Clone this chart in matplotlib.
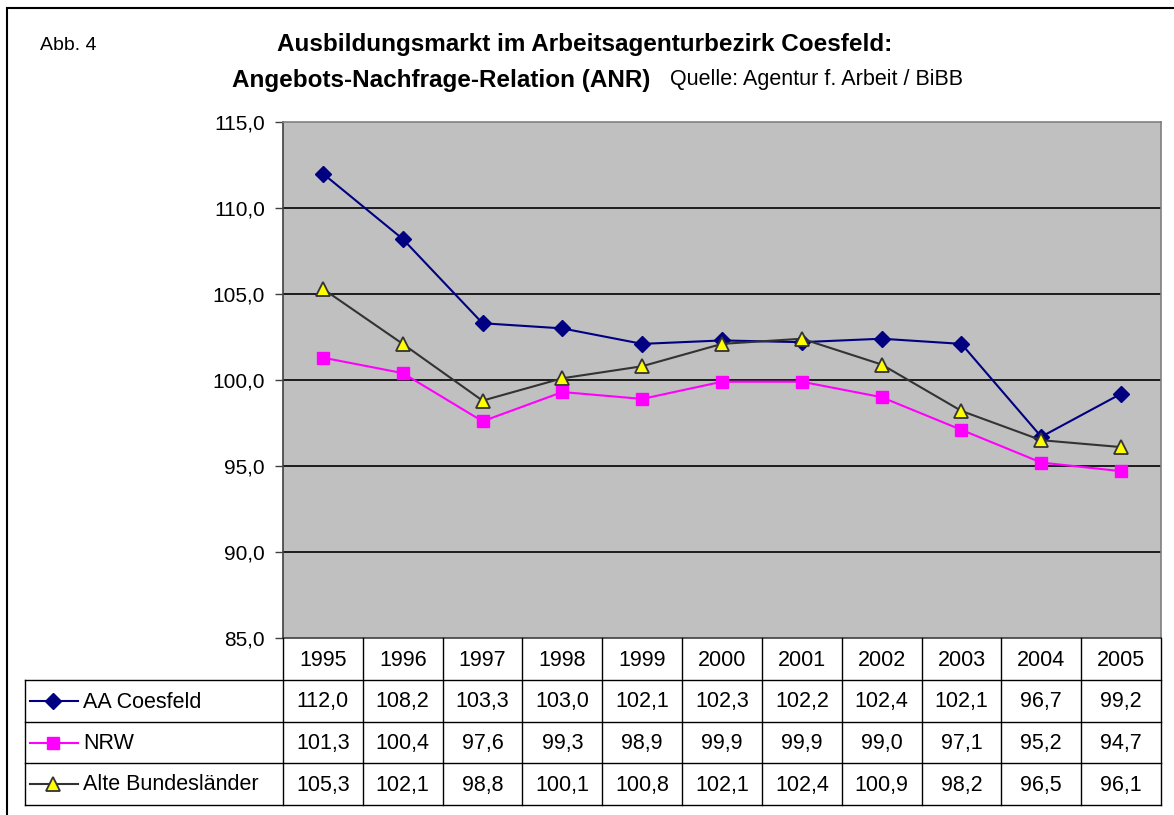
import matplotlib
matplotlib.use("Agg")
import matplotlib.pyplot as plt
from matplotlib.lines import Line2D
from matplotlib.patches import Rectangle

plt.rcParams['font.family'] = ['Liberation Sans', 'DejaVu Sans']

years = ["1995", "1996", "1997", "1998", "1999", "2000", "2001", "2002", "2003", "2004", "2005"]
aa_coesfeld = [112.0, 108.2, 103.3, 103.0, 102.1, 102.3, 102.2, 102.4, 102.1, 96.7, 99.2]
nrw = [101.3, 100.4, 97.6, 99.3, 98.9, 99.9, 99.9, 99.0, 97.1, 95.2, 94.7]
alte_bl = [105.3, 102.1, 98.8, 100.1, 100.8, 102.1, 102.4, 100.9, 98.2, 96.5, 96.1]
series_names = ["AA Coesfeld", "NRW", "Alte Bundesländer"]
yticks = [85, 90, 95, 100, 105, 110, 115]

W, H = 1174, 815
fig = plt.figure(figsize=(W / 100, H / 100), dpi=100)

def fx(px):
    return px / W

def fy(py):
    return 1 - py / H

# outer frame
fig.add_artist(Rectangle((fx(7), fy(830)), fx(1180), fy(8) - fy(830), transform=fig.transFigure,
                         fill=False, edgecolor='black', linewidth=1.5))

ax_l, ax_r, ax_t, ax_b = 283, 1161, 122, 638
ax = fig.add_axes([fx(ax_l), fy(ax_b), fx(ax_r - ax_l), fy(ax_t) - fy(ax_b)])
ax.set_facecolor('#C0C0C0')
ax.set_xlim(-0.5, len(years) - 0.5)
ax.set_ylim(85, 115)
ax.set_yticks(yticks)
ax.set_yticklabels([f"{v:.1f}".replace('.', ',') for v in yticks], fontsize=15)
ax.set_xticks([])
ax.tick_params(axis='y', length=6, width=1, color='#404040', pad=7)
for y in yticks[1:-1]:
    ax.axhline(y, color='black', linewidth=1.2, zorder=1)
for s in ax.spines.values():
    s.set_color('#808080')
    s.set_linewidth(1.2)
ax.spines['left'].set_color('#404040')
ax.spines['bottom'].set_color('#404040')

x = list(range(len(years)))
styles = [
    dict(color='#000080', marker='D', markersize=8.5, markerfacecolor='#000080', markeredgecolor='#000080'),
    dict(color='#FF00FF', marker='s', markersize=9, markerfacecolor='#FF00FF', markeredgecolor='#FF00FF'),
    dict(color='#333333', marker='^', markersize=10, markerfacecolor='#FFFF00', markeredgecolor='#333333',
         markeredgewidth=1.3),
]
data = [aa_coesfeld, nrw, alte_bl]
for vals, st in zip(data, styles):
    ax.plot(x, vals, linewidth=1.5, zorder=3, clip_on=False, **st)

# data table
col_w = (ax_r - ax_l) / len(years)
row_edges = [638, 680, 722, 763, 805]
leg_l = 25

def hline(py, x0, x1):
    fig.add_artist(Line2D([fx(x0), fx(x1)], [fy(py), fy(py)], transform=fig.transFigure,
                          color='black', linewidth=1))

def vline(px, y0, y1):
    fig.add_artist(Line2D([fx(px), fx(px)], [fy(y0), fy(y1)], transform=fig.transFigure,
                          color='black', linewidth=1))

for r in range(1, 5):
    hline(row_edges[r], leg_l, ax_r)
vline(leg_l, row_edges[1], row_edges[4])
for i in range(len(years) + 1):
    vline(ax_l + i * col_w, row_edges[0], row_edges[4])

tfs = 15.5
for i, yr in enumerate(years):
    cx = ax_l + (i + 0.5) * col_w
    fig.text(fx(cx), fy((row_edges[0] + row_edges[1]) / 2 + 1), yr, ha='center', va='center', fontsize=tfs)
    for r, vals in enumerate(data):
        cy = (row_edges[r + 1] + row_edges[r + 2]) / 2 + 1
        fig.text(fx(cx), fy(cy), f"{vals[i]:.1f}".replace('.', ','), ha='center', va='center', fontsize=tfs)

for r, (name, st) in enumerate(zip(series_names, styles)):
    cy = (row_edges[r + 1] + row_edges[r + 2]) / 2
    fig.add_artist(Line2D([fx(30), fx(78)], [fy(cy), fy(cy)], transform=fig.transFigure,
                          linewidth=1.5, **st, markevery=[]))
    fig.add_artist(Line2D([fx(53)], [fy(cy)], transform=fig.transFigure, linestyle='none', **st))
    fig.text(fx(83), fy(cy + 1), name, ha='left', va='center', fontsize=tfs)

# titles
fig.text(fx(40), fy(45), "Abb. 4", ha='left', va='center', fontsize=14)
fig.text(fx(585), fy(45), "Ausbildungsmarkt im Arbeitsagenturbezirk Coesfeld:", ha='center', va='center',
         fontsize=17.5, fontweight='bold')
fig.text(fx(650), fy(80), "Angebots-Nachfrage-Relation (ANR)", ha='right', va='center',
         fontsize=17.5, fontweight='bold')
fig.text(fx(670), fy(80), "Quelle: Agentur f. Arbeit / BiBB", ha='left', va='center', fontsize=15.5)

fig.savefig("out.png", dpi=100)
